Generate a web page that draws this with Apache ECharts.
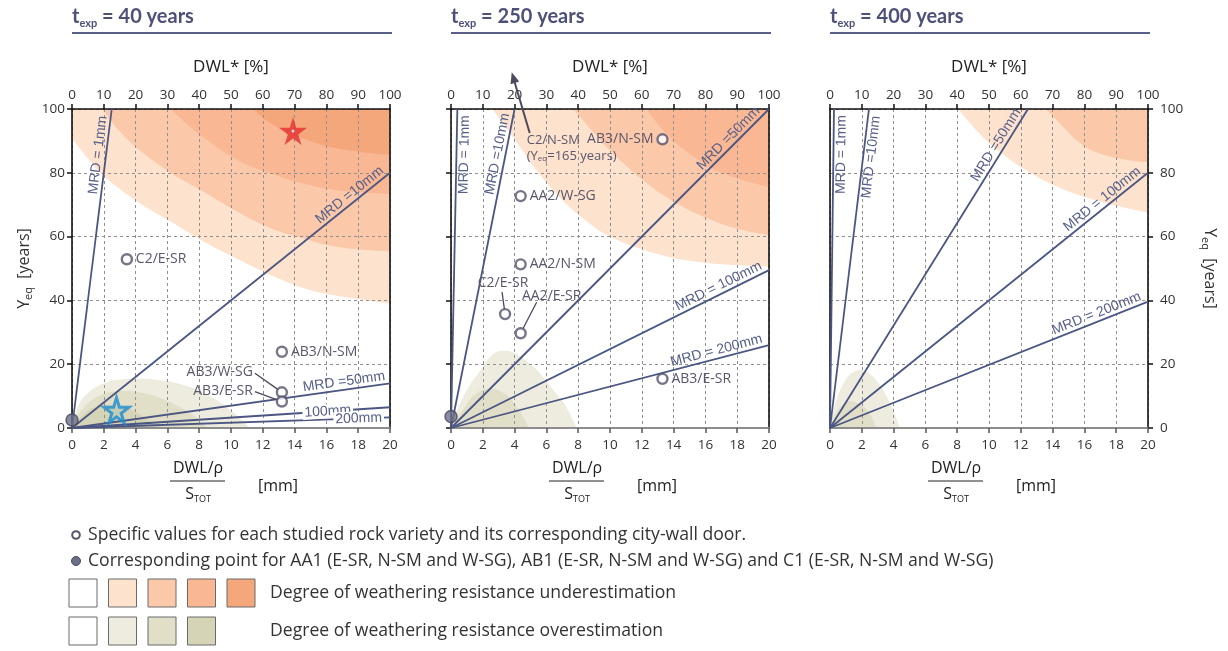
<!DOCTYPE html>
<html>
<head>
<meta charset="utf-8">
<script src="https://cdn.jsdelivr.net/npm/echarts@6/dist/echarts.min.js"></script>
<style>html,body{margin:0;padding:0;background:#fff}#chart{width:1228px;height:651px}</style>
</head>
<body>
<div id="chart"></div>
<script>
// ---------- DATA ----------
const panelTimes = ['40', '250', '400'];

// Underestimation regions (boundary curves, area above curve), [DWL/rho/S mm, Yeq years]
const p1Under1 = [[0,91],[1,84.5],[2,79],[4.1,71],[6.2,64.7],[8.3,58.4],[10.4,53],[12.5,48],[14.5,44],[16.6,41.5],[20,39]];
const p1Under2 = [[1.9,100],[3,93],[4.1,87.7],[6.2,80],[8.3,74],[10.4,67.8],[12.5,62.6],[14.5,59.5],[16.6,56.8],[20,55.3]];
const p1Under3 = [[6.2,100],[7.3,95],[8.3,91],[10.4,84],[12.5,79.8],[14.5,76.7],[16.6,74.6],[20,73.3]];
const p1Under4 = [[11.4,100],[12.5,95.5],[14.5,90.8],[16.6,87.7],[20,85.6]];
// Overestimation regions (area under curve)
const p1Over1 = [[0,0],[0.4,7],[1,11],[2,14],[3,15.2],[4.1,15.4],[5.5,15],[7,13.5],[8.5,10.5],[10,5.5],[11.2,0]];
const p1Over2 = [[0,0],[0.5,5],[1.5,9.5],[3,11.6],[4.5,11],[6,8.5],[7.5,4.5],[8.5,0]];
const p1Over3 = [[0,0],[0.8,4.5],[2,7.3],[3,7],[4.2,4.5],[5.5,0]];

const p2Under1 = [[2.6,100],[3.5,94],[4.5,87],[5.5,80],[7,71.5],[8.5,65],[10,60],[12,56],[14,53.3],[16,51.8],[18,51],[20,50.5]];
const p2Under2 = [[7.7,100],[9,92.5],[10,87],[12,78],[14,71],[16,66],[18,62.5],[20,60.5]];
const p2Under3 = [[12.3,100],[13.5,92.5],[15,86],[17,80],[20,75.5]];
const p2Over1 = [[0,0],[0.5,7],[1.2,13.5],[1.8,17.7],[2.5,22.5],[3.2,24.2],[4,23.5],[5,20],[5.5,17.7],[6.5,11.5],[7.2,7],[7.9,0]];
const p2Over2 = [[0,0],[0.8,6],[1.5,10.5],[2.4,12.4],[3.3,11],[4.07,7.2],[4.9,0]];

const p3Under1 = [[8.05,100],[9.3,92.9],[10.4,87.7],[12.45,80.4],[14.55,75.1],[16.65,71.5],[18.7,68.9],[20,67.5]];
const p3Under2 = [[13.6,100],[14.55,95],[15.6,89.8],[16.65,86.6],[18.7,84],[20,83.3]];
const p3Over1 = [[0,0],[0.3,7],[0.8,13.5],[1.3,17],[1.9,18.2],[2.5,17],[3.2,13],[3.8,7.5],[4.4,0]];
const p3Over2 = [[0,0],[0.5,5.5],[1.3,8.5],[2,7],[2.5,4.5],[2.9,0]];

// MRD lines: [MRD mm, end x, end y] (start at origin)
const p1Mrd = [[1,2.5,100],[10,20,80],[50,20,14],[100,20,6.5],[200,20,3.3]];
const p2Mrd = [[1,0.4,100],[10,4,100],[50,20,100],[100,20,49.5],[200,20,26]];
const p3Mrd = [[1,0.25,100],[10,2.45,100],[50,12.45,100],[100,20,80],[200,20,39.6]];
const p1MrdText = ['MRD = 1mm','MRD =10mm','MRD =50mm','100mm','200mm'];
const p2MrdText = ['MRD = 1mm','MRD =10mm','MRD =50mm','MRD = 100mm','MRD = 200mm'];
const p3MrdText = ['MRD = 1mm','MRD =10mm','MRD =50mm','MRD = 100mm','MRD = 200mm'];

// Specific points [x, Yeq, name]
const p1Points = [[3.45,52.9,'C2/E-SR'],[13.2,23.9,'AB3/N-SM'],[13.2,11.2,'AB3/W-SG'],[13.2,8.3,'AB3/E-SR']];
const p1Filled = [[0,2.5]];
const p1RedStar = [[13.9,93.1]];
const p1BlueStar = [[2.8,5.6]];
const p2Points = [[4.38,72.7,'AA2/W-SG'],[4.38,51.3,'AA2/N-SM'],[3.4,35.7,'C2/E-SR'],[4.38,29.7,'AA2/E-SR'],[13.3,90.5,'AB3/N-SM'],[13.3,15.4,'AB3/E-SR']];
const p2Filled = [[0,3.6]];
const p2ArrowFrom = [4.95,92.5];
const p2ArrowTo = [3.82,111.5];

const legendTexts = [
  'Specific values for each studied rock variety and its corresponding city-wall door.',
  'Corresponding point for AA1 (E-SR, N-SM and W-SG), AB1 (E-SR, N-SM and W-SG) and C1 (E-SR, N-SM and W-SG)',
  'Degree of weathering resistance underestimation',
  'Degree of weathering resistance overestimation'
];

// ---------- STYLE ----------
const FONT = '"Open Sans", sans-serif';
const ARIAL = '"Liberation Sans", Arial, sans-serif';
const UNDER = ['#fde2cd','#fbc9a9','#f9b793','#f5a77c'];
const OVER = ['#eeecde','#e1dfc8','#d6d4b6'];
const MRD_LINE = '#4b5683', MRD_TEXT = '#56608a', PT = '#56526a', TITLE = '#4d5179';
const grids = [
  {left:72, top:109, width:318, height:319},
  {left:451, top:109, width:318, height:319},
  {left:830, top:109, width:318, height:319}
];
const MRD_PLACE = [
  [{side:'top',dist:8},{side:'top',dist:4},{side:'top',dist:4},{side:'on',dist:37},{side:'on',dist:6}],
  [{side:'bottom',dist:6},{side:'top',dist:6},{side:'top',dist:8},{side:'top',dist:5},{side:'top',dist:5}],
  [{side:'bottom',dist:6},{side:'bottom',dist:6},{side:'top',dist:6},{side:'top',dist:5},{side:'top',dist:5}]
];
const LABEL_PLACE = {
  '0:AB3/W-SG': {dx:-29, dy:-20, align:'right', lead:[-27,-19]},
  '0:AB3/E-SR': {dx:-29, dy:-11, align:'right', lead:[-27,-10]},
  '1:C2/E-SR': {dx:-2, dy:-31, align:'center', lead:[-3,-22]},
  '1:AA2/E-SR': {dx:31, dy:-37, align:'center', lead:[16,-31]},
  '1:AB3/N-SM': {dx:-9, dy:0, align:'right'}
};

const panels = [
  {under:[p1Under1,p1Under2,p1Under3,p1Under4], over:[p1Over1,p1Over2,p1Over3], mrd:p1Mrd, mrdText:p1MrdText, points:p1Points, filled:p1Filled},
  {under:[p2Under1,p2Under2,p2Under3], over:[p2Over1,p2Over2], mrd:p2Mrd, mrdText:p2MrdText, points:p2Points, filled:p2Filled},
  {under:[p3Under1,p3Under2], over:[p3Over1,p3Over2], mrd:p3Mrd, mrdText:p3MrdText, points:[], filled:[]}
];

const dashed = {show:true, lineStyle:{color:'#8f8f8f', type:[3,3], width:1}};
const xAxes = [], yAxes = [], series = [];

panels.forEach((p, g) => {
  xAxes.push({gridIndex:g, type:'value', min:0, max:20, interval:2, position:'bottom', z:3,
    axisLine:{show:true, onZero:false, lineStyle:{color:'#8d8d8d', width:2}},
    axisTick:{show:true, length:5, lineStyle:{color:'#555', width:1.5}},
    axisLabel:{fontSize:13.5, color:'#333', margin:10, fontFamily:FONT},
    splitLine:dashed});
  xAxes.push({gridIndex:g, type:'value', min:0, max:100, interval:10, position:'top', z:3,
    name:'DWL* [%]', nameLocation:'middle', nameGap:33,
    nameTextStyle:{fontSize:17, color:'#222', fontFamily:FONT},
    axisLine:{show:true, onZero:false, lineStyle:{color:'#111', width:1.6}},
    axisTick:{show:true, length:5, lineStyle:{color:'#111', width:1.5}},
    axisLabel:{fontSize:13.5, color:'#333', margin:7, fontFamily:FONT},
    splitLine:{show:false}});
  const yl = {gridIndex:g, type:'value', min:0, max:100, interval:20, position:'left', z:3,
    axisLine:{show:true, onZero:false, lineStyle:{color:'#111', width:1.6}},
    axisTick:{show:g<2, length:5, lineStyle:{color:'#111', width:1.5}},
    axisLabel:{show:g===0, fontSize:13.5, color:'#333', margin:7, fontFamily:FONT},
    splitLine:dashed};
  const yNameRich = {y:{fontSize:16, color:'#333', fontFamily:FONT, lineHeight:20}, s:{fontSize:11, color:'#333', fontFamily:FONT, lineHeight:8, verticalAlign:'bottom'}};
  if (g === 0) Object.assign(yl, {name:'{y|Y}{s|eq}{y|  [years]}', nameLocation:'middle', nameRotate:90, nameGap:38, nameTextStyle:{rich:yNameRich}});
  const yr = {gridIndex:g, type:'value', min:0, max:100, interval:20, position:'right', z:3,
    axisLine:{show:true, onZero:false, lineStyle:{color:'#111', width:1.6}},
    axisTick:{show:g===2, length:5, lineStyle:{color:'#111', width:1.5}},
    axisLabel:{show:g===2, fontSize:13.5, color:'#333', margin:12, fontFamily:FONT},
    splitLine:{show:false}};
  if (g === 2) Object.assign(yr, {name:'{y|Y}{s|eq}{y|  [years]}', nameLocation:'middle', nameRotate:-90, nameGap:52, nameTextStyle:{rich:yNameRich}});
  yAxes.push(yl, yr);

  const xi = 2*g, yi = 2*g;
  p.under.forEach((d, k) => series.push({type:'line', xAxisIndex:xi, yAxisIndex:yi, data:d, smooth:0.4,
    symbol:'none', silent:true, z:1, lineStyle:{width:0, opacity:0},
    areaStyle:{color:UNDER[k], opacity:1, origin:'end'}}));
  p.over.forEach((d, k) => series.push({type:'line', xAxisIndex:xi, yAxisIndex:yi, data:d, smooth:0.4,
    symbol:'none', silent:true, z:1, lineStyle:{width:0, opacity:0},
    areaStyle:{color:OVER[k], opacity:1, origin:'start'}}));

  // MRD lines with rotated labels
  series.push({type:'custom', xAxisIndex:xi, yAxisIndex:yi, z:5, clip:false, silent:true,
    data:p.mrd.map(m => [m[1], m[2]]),
    renderItem(params, api) {
      const i = params.dataIndex;
      const p0 = api.coord([0,0]), p1 = api.coord([api.value(0), api.value(1)]);
      const ang = -Math.atan2(p1[1]-p0[1], p1[0]-p0[0]);
      const pl = MRD_PLACE[g][i];
      const va = pl.side==='top' ? 'bottom' : pl.side==='bottom' ? 'top' : 'middle';
      const off = pl.side==='top' ? -1 : pl.side==='bottom' ? 1 : 0;
      return {type:'group', children:[
        {type:'line', shape:{x1:p0[0], y1:p0[1], x2:p1[0], y2:p1[1]}, style:{stroke:MRD_LINE, lineWidth:1.8}},
        {type:'group', x:p1[0], y:p1[1], rotation:ang, children:[
          {type:'text', x:-pl.dist, y:off, z2:10, style:{text:p.mrdText[i], align:'right', textAlign:'right',
            verticalAlign:va, textVerticalAlign:va, fontSize:14, fontFamily:ARIAL, fill:MRD_TEXT,
            backgroundColor: pl.side==='on' ? '#fff' : 'transparent', padding: pl.side==='on' ? [0,2,0,2] : 0}}
        ]}
      ]};
    }});

  // point labels + leader lines
  if (p.points.length) {
    series.push({type:'custom', xAxisIndex:xi, yAxisIndex:yi, z:6, clip:false, silent:true,
      data:p.points.map(q => [q[0], q[1]]),
      renderItem(params, api) {
        const i = params.dataIndex, name = p.points[i][2];
        const pl = LABEL_PLACE[g+':'+name] || {dx:9, dy:0, align:'left'};
        const c = api.coord([api.value(0), api.value(1)]);
        const ch = [];
        if (pl.lead) {
          const sx = c[0]+pl.lead[0], sy = c[1]+pl.lead[1];
          const vx = sx-c[0], vy = sy-c[1], L = Math.hypot(vx, vy), r = 5;
          ch.push({type:'line', shape:{x1:sx, y1:sy, x2:c[0]+vx/L*r, y2:c[1]+vy/L*r}, style:{stroke:'#4e4a5e', lineWidth:1.3}});
        }
        ch.push({type:'text', x:c[0]+pl.dx, y:c[1]+pl.dy, style:{text:name, align:pl.align, textAlign:pl.align,
          verticalAlign:'middle', textVerticalAlign:'middle', fontSize:14, fontFamily:FONT, fill:'#5a566c'}});
        return {type:'group', children:ch};
      }});
    series.push({type:'scatter', xAxisIndex:xi, yAxisIndex:yi, z:7, silent:true,
      data:p.points.map(q => [q[0], q[1]]), symbol:'circle', symbolSize:10,
      itemStyle:{color:'#fff', borderColor:PT, borderWidth:2.4}});
  }
  if (p.filled.length) {
    series.push({type:'scatter', xAxisIndex:xi, yAxisIndex:yi, z:7, silent:true, clip:false,
      data:p.filled, symbol:'circle', symbolSize:12,
      itemStyle:{color:'#6b6f88', borderColor:'#4a4a60', borderWidth:1.5}});
  }
});

const STAR = 'path://M50,0 L61,35 L98,35 L68,57 L79,91 L50,70 L21,91 L32,57 L2,35 L39,35 Z';
series.push({type:'scatter', xAxisIndex:0, yAxisIndex:0, z:8, silent:true, data:p1RedStar, symbol:STAR, symbolSize:28,
  itemStyle:{color:'#e5302e'}});
series.push({type:'scatter', xAxisIndex:0, yAxisIndex:0, z:9, silent:true, data:p1RedStar, symbol:'circle', symbolSize:3,
  itemStyle:{color:'#fff'}});
series.push({type:'scatter', xAxisIndex:0, yAxisIndex:0, z:8, silent:true, data:p1BlueStar, symbol:STAR, symbolSize:25,
  itemStyle:{color:'rgba(31,140,205,0.12)', borderColor:'#1b8cd0', borderWidth:3}});

// C2/N-SM off-chart arrow (panel 2)
series.push({type:'custom', xAxisIndex:2, yAxisIndex:2, z:6, clip:false, silent:true,
  data:[[p2ArrowFrom[0], p2ArrowFrom[1], p2ArrowTo[0], p2ArrowTo[1]]],
  renderItem(params, api) {
    const a = api.coord([api.value(0), api.value(1)]), b = api.coord([api.value(2), api.value(3)]);
    const vx = b[0]-a[0], vy = b[1]-a[1], L = Math.hypot(vx, vy), ux = vx/L, uy = vy/L, nx = -uy, ny = ux;
    const hl = 11, hw = 4.5, base = [b[0]-ux*hl, b[1]-uy*hl];
    const ts = {fontSize:13, fontFamily:FONT, fill:'#5a566c', align:'left', textAlign:'left', verticalAlign:'middle', textVerticalAlign:'middle'};
    return {type:'group', children:[
      {type:'line', shape:{x1:a[0], y1:a[1], x2:base[0]+ux*2, y2:base[1]+uy*2}, style:{stroke:'#4e4a5e', lineWidth:2}},
      {type:'polygon', shape:{points:[b, [base[0]+nx*hw, base[1]+ny*hw], [base[0]-nx*hw, base[1]-ny*hw]]}, style:{fill:'#4e4a5e'}},
      {type:'text', x:a[0]-3, y:a[1]+7, style:Object.assign({text:'C2/N-SM'}, ts)},
      {type:'text', x:a[0]-3, y:a[1]+23, style:Object.assign({text:'(Y{s|eq}=165 years)',
        rich:{s:{fontSize:8, fontFamily:FONT, fill:'#5a566c', lineHeight:6, verticalAlign:'bottom'}}}, ts)}
    ]};
  }});

// ---------- GRAPHIC TEXT (titles, axis fraction names, legend) ----------
const graphic = [];
const titleRich = {
  t:{fontSize:20, fontWeight:'bold', fontFamily:'Lato', fill:TITLE, color:TITLE, lineHeight:24},
  s:{fontSize:11, fontWeight:'bold', fontFamily:'Lato', fill:TITLE, color:TITLE, lineHeight:10, verticalAlign:'bottom'}
};
grids.forEach((gr, g) => {
  graphic.push({type:'text', x:gr.left, y:17, style:{text:'{t|t}{s|exp}{t| = '+panelTimes[g]+' years}', rich:titleRich,
    verticalAlign:'middle', textVerticalAlign:'middle'}});
  graphic.push({type:'line', shape:{x1:gr.left, y1:33, x2:gr.left+gr.width+2, y2:33}, style:{stroke:'#5a5f8a', lineWidth:2}});
  const fx = gr.left + 126;
  graphic.push({type:'text', x:fx, y:468, style:{text:'DWL/ρ', fontSize:16, fontFamily:FONT, fill:'#222', align:'center', textAlign:'center', verticalAlign:'middle', textVerticalAlign:'middle'}});
  graphic.push({type:'line', shape:{x1:fx-28, y1:481, x2:fx+27, y2:481}, style:{stroke:'#222', lineWidth:1.2}});
  graphic.push({type:'text', x:fx, y:494, style:{text:'{S|S}{s|TOT}', align:'center', textAlign:'center', verticalAlign:'middle', textVerticalAlign:'middle',
    rich:{S:{fontSize:16, fontFamily:FONT, fill:'#222', lineHeight:20}, s:{fontSize:9, fontFamily:FONT, fill:'#222', lineHeight:8, verticalAlign:'bottom'}}}});
  graphic.push({type:'text', x:gr.left+186, y:486, style:{text:'[mm]', fontSize:16, fontFamily:FONT, fill:'#222', verticalAlign:'middle', textVerticalAlign:'middle'}});
});
const LFONT = '"Open Sans", sans-serif';
const LSIZE = 17.6;
graphic.push({type:'circle', shape:{cx:76, cy:535, r:3.8}, style:{fill:'#fff', stroke:PT, lineWidth:2}});
graphic.push({type:'circle', shape:{cx:76, cy:561, r:4.5}, style:{fill:'#6b6f88', stroke:'#4a4a60', lineWidth:1}});
graphic.push({type:'text', x:88, y:535, style:{text:legendTexts[0], fontSize:LSIZE, fontFamily:LFONT, fill:'#333', verticalAlign:'middle', textVerticalAlign:'middle'}});
graphic.push({type:'text', x:88, y:561, style:{text:legendTexts[1], fontSize:LSIZE, fontFamily:LFONT, fill:'#333', verticalAlign:'middle', textVerticalAlign:'middle'}});
['#fff'].concat(UNDER).forEach((c, i) => graphic.push({type:'rect', shape:{x:69+i*39.5, y:579, width:28, height:28}, style:{fill:c, stroke:'#6a6a6a', lineWidth:1}}));
['#fff'].concat(OVER).forEach((c, i) => graphic.push({type:'rect', shape:{x:69+i*39.5, y:617, width:28, height:28}, style:{fill:c, stroke:'#6a6a6a', lineWidth:1}}));
graphic.push({type:'text', x:270, y:593, style:{text:legendTexts[2], fontSize:LSIZE, fontFamily:LFONT, fill:'#333', verticalAlign:'middle', textVerticalAlign:'middle'}});
graphic.push({type:'text', x:270, y:631, style:{text:legendTexts[3], fontSize:LSIZE, fontFamily:LFONT, fill:'#333', verticalAlign:'middle', textVerticalAlign:'middle'}});

const chart = echarts.init(document.getElementById('chart'), null, {renderer:'canvas'});
chart.setOption({
  animation:false,
  backgroundColor:'#fff',
  grid:grids,
  xAxis:xAxes,
  yAxis:yAxes,
  series:series,
  graphic:graphic
});
</script>
</body>
</html>
